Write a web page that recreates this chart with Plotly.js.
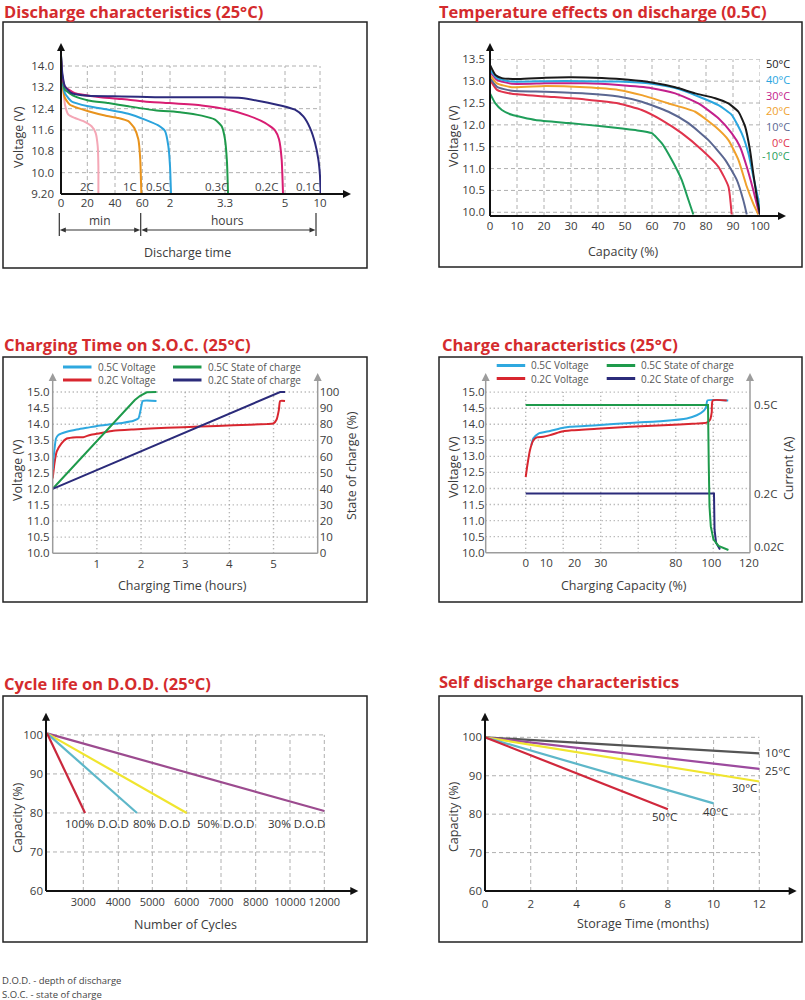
<!DOCTYPE html>
<html>
<head>
<meta charset="utf-8">
<script src="https://cdn.plot.ly/plotly-3.0.1.min.js"></script>
<style>
  html, body { margin: 0; padding: 0; background: #fff; }
  #chart { width: 805px; height: 1000px; }
</style>
</head>
<body>
<div id="chart"></div>
<script>
const W = 805;
const H = 1000;
const FONT = 'Open Sans, Noto Sans, sans-serif';
const TXT = '#3c3c3c';
const RED = '#d42b2d';

/* ---------- 1. Discharge characteristics (25°C) ---------- */
// broken time axis: minutes up to 60, then hours
const dcBreakMin = [0, 20, 40, 60, 120, 198, 300, 600];
const dcBreakPos = [0, 26.3, 54, 81.3, 109, 164, 224, 259];
const dcTickText = ['0', '20', '40', '60', '2', '3.3', '5', '10'];
const dcVoltTicks = [9.2, 10.0, 10.8, 11.6, 12.4, 13.2, 14.0];
const dcRates = ['2C', '1C', '0.5C', '0.3C', '0.2C', '0.1C'];
const dcColors = ['#f4a7b6', '#e8931d', '#2ba3dc', '#1e9a4b', '#d81d72', '#2c2a7c'];
const dc2C_min = [0, 0.5, 1.8, 3.0, 5.6, 10.6, 17.0, 23.1, 26.0, 27.5, 28.0, 28.0];
const dc2C_volt = [14.3, 13.73, 13.11, 12.55, 12.18, 12.05, 11.93, 11.74, 11.49, 11.0, 10.25, 9.22];
const dc1C_min = [0, 1.0, 3.0, 6.8, 13.2, 20.7, 32.8, 42.4, 49.8, 54.1, 57.1, 58.5, 59.3];
const dc1C_volt = [14.2, 13.35, 12.8, 12.55, 12.42, 12.3, 12.14, 12.05, 11.93, 11.68, 11.25, 10.5, 9.22];
const dc05C_min = [0, 1.0, 3.0, 8.1, 20.7, 35.2, 49.8, 65.8, 94.7, 109.2, 116.4, 120, 121.4];
const dc05C_volt = [14.4, 13.48, 12.98, 12.67, 12.49, 12.36, 12.21, 11.99, 11.77, 11.56, 11.0, 10.25, 9.22];
const dc03C_min = [0, 1.0, 3.0, 10.6, 20.7, 35.2, 49.8, 87.5, 136.5, 164.9, 183.8, 193.3, 198, 201.4, 203.1];
const dc03C_volt = [14.35, 13.55, 13.11, 12.86, 12.71, 12.61, 12.49, 12.34, 12.26, 12.14, 11.99, 11.74, 11.25, 10.38, 9.22];
const dc02C_min = [0, 1.0, 3.0, 10.6, 29.7, 44.9, 64.3, 118.1, 164.9, 203.7, 237.7, 266, 283, 289.8, 294.3, 296.6];
const dc02C_volt = [14.35, 13.6, 13.23, 12.98, 12.83, 12.76, 12.67, 12.61, 12.52, 12.36, 12.14, 11.87, 11.59, 11.25, 10.5, 9.22];
const dc01C_min = [0, 1.0, 3.0, 8.1, 20.7, 44.9, 87.5, 145.3, 192.6, 226.3, 260.3, 294.3, 385.7, 457, 514, 557, 585.7, 600, 605.7];
const dc01C_volt = [14.4, 13.73, 13.23, 12.98, 12.88, 12.86, 12.83, 12.83, 12.83, 12.8, 12.67, 12.51, 12.36, 12.11, 11.68, 11.12, 10.5, 9.88, 9.22];
const dcLabelMin = [20, 51, 93, 186, 269, 491];
const dcLabelVolt = 9.5;

/* ---------- 2. Temperature effects on discharge (0.5C) ---------- */
const tempNames = ['50°C', '40°C', '30°C', '20°C', '10°C', '0°C', '-10°C'];
const tempColors = ['#1a1a1a', '#2aa6df', '#c3208c', '#f0a12c', '#5b6791', '#e0334c', '#1f9e5a'];
const tempLabelVolt = [13.41, 13.04, 12.68, 12.32, 11.96, 11.59, 11.29];
const cap50 = [0, 2, 4.4, 10.6, 20.5, 30.3, 41.4, 51.3, 59.9, 68.6, 76, 83.4, 88.3, 92, 94.5, 96.3, 97.5, 98.8, 100];
const volt50 = [13.37, 13.14, 13.07, 13.05, 13.08, 13.09, 13.07, 13.03, 12.97, 12.86, 12.72, 12.61, 12.49, 12.3, 11.96, 11.42, 10.89, 10.36, 9.95];
const cap40 = [0, 2.6, 8.1, 20.5, 35.3, 47.6, 59.9, 68.6, 77.2, 84.6, 89.5, 93.2, 95.7, 97.5, 99.4, 100];
const volt40 = [13.26, 13.07, 12.99, 13.0, 13.0, 12.99, 12.94, 12.84, 12.65, 12.45, 12.23, 11.81, 11.35, 10.82, 10.28, 9.95];
const cap30 = [0, 2.6, 8.1, 20.5, 35.3, 47.6, 59.9, 68.6, 77.2, 84.6, 89.5, 92.6, 95.1, 97.5, 99.4, 100];
const volt30 = [13.22, 13.03, 12.94, 12.95, 12.95, 12.91, 12.84, 12.72, 12.49, 12.15, 11.81, 11.5, 11.04, 10.51, 10.05, 9.95];
const cap20 = [0, 2.6, 8.1, 20.5, 35.3, 47.6, 56.2, 66.1, 76, 83.4, 88.3, 92, 95.1, 97.5, 99.4];
const volt20 = [13.14, 12.95, 12.86, 12.89, 12.86, 12.8, 12.68, 12.49, 12.3, 11.96, 11.65, 11.2, 10.59, 10.2, 9.95];
const cap10 = [0, 2.6, 8.1, 20.5, 35.3, 47.6, 56.2, 66.1, 73.5, 80.9, 87.1, 91.4, 93.8, 95.1];
const volt10 = [13.07, 12.87, 12.78, 12.76, 12.72, 12.65, 12.53, 12.3, 12.04, 11.65, 11.2, 10.74, 10.28, 9.95];
const cap0 = [0, 2.6, 8.1, 20.5, 35.3, 47.6, 56.2, 63.6, 71, 78.4, 84.6, 88.3, 89.5];
const volt0 = [13.03, 12.8, 12.71, 12.65, 12.58, 12.49, 12.34, 12.11, 11.81, 11.43, 11.04, 10.59, 9.95];
const capM10 = [0, 2, 4.4, 8.1, 16.8, 29.1, 41.4, 53.8, 59.9, 63.6, 67.3, 71, 73.5, 75.3];
const voltM10 = [12.72, 12.49, 12.34, 12.23, 12.11, 12.04, 11.97, 11.88, 11.81, 11.58, 11.2, 10.74, 10.28, 9.95];

/* ---------- 3. Charging time on S.O.C. (25°C) ---------- */
const ctNames = ['0.5C Voltage', '0.2C Voltage', '0.5C State of charge', '0.2C State of charge'];
const ctColors = ['#2fa8df', '#d8262f', '#1e9a4b', '#2b2b7a'];
const ct05V_h = [0, 0.015, 0.075, 0.128, 0.317, 0.543, 0.77, 1.0, 1.3, 1.6, 1.83, 1.94, 1.99, 2.04, 2.35];
const ct05V_volt = [12.6, 12.89, 13.56, 13.67, 13.77, 13.84, 13.89, 13.95, 14.0, 14.05, 14.11, 14.18, 14.44, 14.72, 14.72];
const ct02V_h = [0, 0.04, 0.09, 0.2, 0.32, 0.54, 0.69, 0.85, 1.07, 1.37, 1.83, 2.58, 3.34, 4.09, 4.85, 5.0, 5.07, 5.12, 5.15, 5.26];
const ct02V_volt = [12.32, 12.79, 13.15, 13.41, 13.56, 13.6, 13.6, 13.67, 13.72, 13.8, 13.84, 13.89, 13.93, 13.97, 14.01, 14.03, 14.15, 14.44, 14.72, 14.72];
const ct05S_h = [0, 1.86, 1.98, 2.13, 2.35];
const ct05S_soc = [40, 95, 97.7, 99.8, 100];
const ct02S_h = [0, 5.15, 5.26];
const ct02S_soc = [40, 100, 100];

/* ---------- 4. Charge characteristics (25°C) ---------- */
const ccTickPos = [0, 11, 26, 40, 80, 99, 119];
const ccTickText = ['0', '10', '20', '30', '80', '100', '120'];
const ccCurrentTicks = [0.02, 0.2, 0.5];
const ccCurrentText = ['0.02C', '0.2C', '0.5C'];
const cc05V_cap = [3.0, 4.1, 6.8, 13, 20, 23.6, 37.9, 55.6, 73.4, 85.9, 91.2, 94.8, 96.2, 96.9, 108];
const cc05V_volt = [13.35, 13.56, 13.71, 13.79, 13.89, 13.92, 13.97, 14.04, 14.1, 14.18, 14.28, 14.41, 14.54, 14.74, 14.74];
const cc02V_cap = [0, 0.9, 2.3, 4.1, 5.9, 9.4, 13, 18.3, 24.5, 37.9, 55.6, 73.4, 91.2, 96.5, 98.3, 99.2, 99.7, 107.2];
const cc02V_volt = [12.35, 12.73, 13.2, 13.5, 13.59, 13.61, 13.66, 13.76, 13.81, 13.86, 13.92, 13.97, 14.02, 14.05, 14.14, 14.38, 14.74, 14.74];
const cc05I_cap = [0, 97.2, 97.6, 98, 98.7, 100.1, 102.8, 108.1];
const cc05I_amp = [0.5, 0.5, 0.302, 0.157, 0.089, 0.045, 0.023, 0.009];
const cc02I_cap = [0, 100.4, 100.7, 101.5, 103.6];
const cc02I_amp = [0.2, 0.2, 0.078, 0.034, 0.011];

/* ---------- 5. Cycle life on D.O.D. (25°C) ---------- */
const cycleTicks = [3000, 4000, 5000, 6000, 7000, 8000, 10000, 12000];
const cycleBreaks = [2000, 3000, 4000, 5000, 6000, 7000, 8000, 10000, 12000];
const cyclePos = [1, 37.3, 72.3, 106.3, 140.7, 175, 209.7, 244, 278.3];
const dodNames = ['100% D.O.D', '80% D.O.D', '50% D.O.D', '30% D.O.D'];
const dodColors = ['#c9283d', '#5db7c9', '#f0e52e', '#9c4b8f'];
const dod100_cyc = [2000, 3050];
const dod100_cap = [100.4, 80];
const dod80_cyc = [2000, 4550];
const dod80_cap = [100.4, 80];
const dod50_cyc = [2000, 6000];
const dod50_cap = [100.4, 80];
const dod30_cyc = [2000, 12000];
const dod30_cap = [100.4, 80.5];
const dodLabelCyc = [3383, 5253, 7135, 10350];
const dodLabelCap = 77.2;

/* ---------- 6. Self discharge characteristics ---------- */
const sdNames = ['10°C', '25°C', '30°C', '40°C', '50°C'];
const sdColors = ['#555555', '#9c4a9e', '#f0e52e', '#5db7c9', '#d0283c'];
const sd10_mon = [0, 12];
const sd10_cap = [100, 95.8];
const sd25_mon = [0, 12];
const sd25_cap = [100, 91.8];
const sd30_mon = [0, 12];
const sd30_cap = [100, 88.5];
const sd40_mon = [0, 10];
const sd40_cap = [100, 82.8];
const sd50_mon = [0, 8];
const sd50_cap = [100, 81.3];
const sdLabelMon = [12.17, 12.17, 11.34, 10.1, 7.87];
const sdLabelCap = [96.1, 91.3, 87.0, 80.6, 79.3];
const sdLabelAnchor = ['left', 'left', 'center', 'center', 'center'];

/* ---------- helpers ---------- */
const px = (x) => x / W;
const py = (y) => 1 - y / H;
const xd = (a, b) => [a / W, b / W];
const yd = (top, bottom) => [1 - bottom / H, 1 - top / H];
const steps = (a, b, s) => { const r = []; for (let v = a; v <= b + 1e-9; v += s) r.push(+v.toFixed(3)); return r; };

// piecewise-linear scale for the uneven axes
function warp(inPts, outPts) {
  return function (v) {
    let i = 1;
    while (i < inPts.length - 1 && v > inPts[i]) i++;
    const a = inPts[i - 1];
    const b = inPts[i];
    return outPts[i - 1] + ((v - a) / (b - a)) * (outPts[i] - outPts[i - 1]);
  };
}
const dcX = warp(dcBreakMin, dcBreakPos);
const cyX = warp(cycleBreaks, cyclePos);
// months -> page x for labels that sit past the plot edge
const sdPageX = (m) => px(485 + (m / 12.03) * 275);

function line(x, y, color, xa, ya, opts) {
  return Object.assign({
    type: 'scatter', mode: 'lines', x, y, xaxis: xa, yaxis: ya, hoverinfo: 'skip', showlegend: false,
    line: { color, width: 2, shape: 'spline', smoothing: 0.5 },
  }, opts || {});
}

function label(x, y, text, opts) {
  return Object.assign({
    xref: 'paper', yref: 'paper', x: px(x), y: py(y), text, showarrow: false,
    xanchor: 'center', yanchor: 'middle',
    font: { family: FONT, size: 11, color: TXT },
  }, opts || {});
}
const title = (x, y, text) => label(x, y, text, { xanchor: 'left', borderpad: 0, font: { family: FONT, size: 16.5, color: RED, weight: 700 } });
const axTitle = (x, y, text, rot) => label(x, y, text, { textangle: rot ? -90 : 0, font: { family: FONT, size: 12.5, color: TXT } });

function seg(x0, y0, x1, y1, color, width) {
  return { type: 'line', xref: 'paper', yref: 'paper', x0: px(x0), y0: py(y0), x1: px(x1), y1: py(y1), line: { color, width } };
}
function tri(pts, color) {
  const d = pts.map((p, i) => `${i ? 'L' : 'M'} ${px(p[0])} ${py(p[1])}`).join(' ') + ' Z';
  return { type: 'path', xref: 'paper', yref: 'paper', path: d, fillcolor: color, line: { width: 0 } };
}
const headUp = (x, tip, c, l = 8, w = 4) => tri([[x, tip], [x - w, tip + l], [x + w, tip + l]], c);
const headRight = (tip, y, c, l = 8, w = 4) => tri([[tip, y], [tip - l, y - w], [tip - l, y + w]], c);
const headLeft = (tip, y, c, l = 8, w = 4) => tri([[tip, y], [tip + l, y - w], [tip + l, y + w]], c);
const box = (x0, y0, x1, y1) => ({ type: 'rect', xref: 'paper', yref: 'paper', x0: px(x0), y0: py(y1), x1: px(x1), y1: py(y0), line: { color: '#222', width: 1.5 } });

function grid(xr, yr, x0, y0, x1, y1, style) {
  return { type: 'line', layer: 'below', xref: xr, yref: yr, x0, y0, x1, y1, line: style };
}
const DASH = { color: '#b0b0b0', width: 1, dash: '4px,3px' };
const DOT = { color: '#a0a0a0', width: 1.4, dash: '1px,3px' };

function axis(domain, range, extra) {
  return Object.assign({
    domain, range, showgrid: false, zeroline: false, showline: false, ticks: '', fixedrange: true,
    tickmode: 'array', tickangle: 0, tickfont: { family: FONT, size: 11.5, color: TXT },
  }, extra);
}

/* ---------- traces ---------- */
const traces = [];
const dcSeries = [[dc2C_min, dc2C_volt], [dc1C_min, dc1C_volt], [dc05C_min, dc05C_volt], [dc03C_min, dc03C_volt], [dc02C_min, dc02C_volt], [dc01C_min, dc01C_volt]];
dcSeries.forEach((s, i) => traces.push(line(s[0].map(dcX), s[1], dcColors[i], 'x', 'y', { name: dcRates[i] })));

const tempSeries = [[cap50, volt50], [cap40, volt40], [cap30, volt30], [cap20, volt20], [cap10, volt10], [cap0, volt0], [capM10, voltM10]];
for (let i = tempSeries.length - 1; i >= 0; i--) {
  traces.push(line(tempSeries[i][0], tempSeries[i][1], tempColors[i], 'x2', 'y2', { name: tempNames[i] }));
}

traces.push(line(ct05S_h, ct05S_soc, ctColors[2], 'x3', 'y4', { name: ctNames[2], line: { color: ctColors[2], width: 2 } }));
traces.push(line(ct02S_h, ct02S_soc, ctColors[3], 'x3', 'y4', { name: ctNames[3], line: { color: ctColors[3], width: 2 } }));
traces.push(line(ct02V_h, ct02V_volt, ctColors[1], 'x3', 'y3', { name: ctNames[1] }));
traces.push(line(ct05V_h, ct05V_volt, ctColors[0], 'x3', 'y3', { name: ctNames[0] }));

traces.push(line(cc05V_cap, cc05V_volt, ctColors[0], 'x4', 'y5', { name: ctNames[0] }));
traces.push(line(cc02V_cap, cc02V_volt, ctColors[1], 'x4', 'y5', { name: ctNames[1] }));
traces.push(line(cc02I_cap, cc02I_amp, ctColors[3], 'x4', 'y6', { name: ctNames[3], line: { color: ctColors[3], width: 2 } }));
traces.push(line(cc05I_cap, cc05I_amp, ctColors[2], 'x4', 'y6', { name: ctNames[2], line: { color: ctColors[2], width: 2 } }));

const dodSeries = [[dod30_cyc, dod30_cap], [dod50_cyc, dod50_cap], [dod80_cyc, dod80_cap], [dod100_cyc, dod100_cap]];
dodSeries.forEach((s, k) => {
  const i = 3 - k;
  traces.push(line(s[0].map(cyX), s[1], dodColors[i], 'x5', 'y7', { name: dodNames[i], line: { color: dodColors[i], width: 2.2 } }));
});

const sdSeries = [[sd10_mon, sd10_cap], [sd25_mon, sd25_cap], [sd30_mon, sd30_cap], [sd40_mon, sd40_cap], [sd50_mon, sd50_cap]];
sdSeries.forEach((s, i) => traces.push(line(s[0], s[1], sdColors[i], 'x6', 'y8', { name: sdNames[i], line: { color: sdColors[i], width: 2.2 } })));

/* ---------- shapes ---------- */
const shapes = [
  box(3, 22, 367, 268), box(439, 22, 802, 267),
  box(3, 357, 367, 602), box(439, 357, 802, 602),
  box(3, 696, 367, 942), box(439, 696, 802, 942),
];

// panel 1 grid + axes
dcBreakMin.slice(1).forEach((t) => shapes.push(grid('x', 'y', dcX(t), 9.2, dcX(t), 14.0, DASH)));
dcVoltTicks.slice(1).forEach((v) => shapes.push(grid('x', 'y', 0, v, dcX(600), v, DASH)));
shapes.push(seg(61, 194, 61, 49, '#111', 2), headUp(61, 43, '#111'));
shapes.push(seg(61, 194, 345, 194, '#111', 2), headRight(351, 194, '#111'));
// min / hours brackets under the axis
[59.3, 140.7, 316].forEach((x) => shapes.push(seg(x, 213, x, 236, '#333', 1.2)));
shapes.push(seg(62, 230, 138, 230, '#333', 1.2), headLeft(59.8, 230, '#333', 6, 2.5), headRight(140.2, 230, '#333', 6, 2.5));
shapes.push(seg(144, 230, 313, 230, '#333', 1.2), headLeft(141.3, 230, '#333', 6, 2.5), headRight(315.5, 230, '#333', 6, 2.5));

// panel 2
steps(10, 100, 10).forEach((c) => shapes.push(grid('x2', 'y2', c, 9.915, c, 13.5, DASH)));
steps(10, 13.5, 0.5).forEach((v) => shapes.push(grid('x2', 'y2', 0, v, 100, v, DASH)));
shapes.push(seg(490, 216, 490, 49, '#111', 2), headUp(490, 43, '#111'));
shapes.push(seg(490, 216, 780, 216, '#111', 2), headRight(786, 216, '#111'));

// panel 3
const GRAY = '#9c9c9c';
steps(1, 5, 1).forEach((t) => shapes.push(grid('x3', 'y3', t, 10, t, 15, DOT)));
steps(10.5, 15, 0.5).forEach((v) => shapes.push(grid('x3', 'y3', 0, v, 6, v, DOT)));
shapes.push(seg(52.7, 553.3, 52.7, 380, GRAY, 1.5), headUp(52.7, 373, GRAY));
shapes.push(seg(317.7, 553.3, 317.7, 380, GRAY, 1.5), headUp(317.7, 373, GRAY));
shapes.push(seg(52.7, 553.3, 317.7, 553.3, GRAY, 1.5));

// panel 4
steps(0, 100, 20).forEach((c) => shapes.push(grid('x4', 'y5', c, 10, c, 15, DOT)));
steps(10.5, 15, 0.5).forEach((v) => shapes.push(grid('x4', 'y5', -21.33, v, 119.6, v, DOT)));
shapes.push(seg(485.7, 552.7, 485.7, 380, GRAY, 1.5), headUp(485.7, 373, GRAY));
shapes.push(seg(750, 552.7, 750, 380, GRAY, 1.5), headUp(750, 373, GRAY));
shapes.push(seg(485.7, 552.7, 750, 552.7, GRAY, 1.5));

// panel 5
cycleTicks.forEach((c) => shapes.push(grid('x5', 'y7', cyX(c), 60, cyX(c), 100, DASH)));
steps(70, 100, 10).forEach((v) => shapes.push(grid('x5', 'y7', 0, v, cyX(12000), v, DASH)));
shapes.push(seg(46, 891, 46, 719, '#111', 2), headUp(46, 712.7, '#111'));
shapes.push(seg(46, 891, 352, 891, '#111', 2), headRight(358.3, 891, '#111'));

// panel 6
steps(2, 12, 2).forEach((m) => shapes.push(grid('x6', 'y8', m, 60, m, 100, DASH)));
steps(70, 100, 10).forEach((v) => shapes.push(grid('x6', 'y8', 0, v, 12, v, DASH)));
shapes.push(seg(485, 891, 485, 719, '#111', 2), headUp(485, 712.7, '#111'));
shapes.push(seg(485, 891, 790, 891, '#111', 2), headRight(796.7, 891, '#111'));

/* ---------- annotations ---------- */
const annotations = [
  title(3, 11.5, 'Discharge characteristics (25°C)'),
  title(438, 11.5, 'Temperature effects on discharge (0.5C)'),
  title(3, 344, 'Charging Time on S.O.C. (25°C)'),
  title(441, 344, 'Charge characteristics (25°C)'),
  title(3, 683, 'Cycle life on D.O.D. (25°C)'),
  title(438, 681, 'Self discharge characteristics'),

  axTitle(18, 137, 'Voltage (V)', true),
  axTitle(187, 252, 'Discharge time'),
  label(100, 221, 'min', { font: { family: FONT, size: 12, color: TXT } }),
  label(227, 221, 'hours', { font: { family: FONT, size: 12, color: TXT } }),

  axTitle(453, 136, 'Voltage (V)', true),
  axTitle(623, 251, 'Capacity (%)'),

  axTitle(17, 470, 'Voltage (V)', true),
  axTitle(352, 466, 'State of charge (%)', true),
  axTitle(182, 585, 'Charging Time (hours)'),

  axTitle(453, 467, 'Voltage (V)', true),
  axTitle(788, 468, 'Current (A)', true),
  axTitle(624, 585, 'Charging Capacity (%)'),

  axTitle(17, 818, 'Capacity (%)', true),
  axTitle(185, 924, 'Number of Cycles'),

  axTitle(453, 817, 'Capacity (%)', true),
  axTitle(643, 923, 'Storage Time (months)'),

  label(0, 980, 'D.O.D. - depth of discharge', { xanchor: 'left', font: { family: FONT, size: 9.5, color: '#444' } }),
  label(0, 994, 'S.O.C. - state of charge', { xanchor: 'left', font: { family: FONT, size: 9.5, color: '#444' } }),
];

dcRates.forEach((r, i) => annotations.push({
  xref: 'x', yref: 'y', x: dcX(dcLabelMin[i]), y: dcLabelVolt, text: r, showarrow: false,
  font: { family: FONT, size: 11.5, color: '#444' },
}));

tempNames.forEach((n, i) => annotations.push({
  xref: 'paper', yref: 'y2', x: px(792), y: tempLabelVolt[i], text: n, showarrow: false, xanchor: 'right',
  font: { family: FONT, size: 11, color: tempColors[i] },
}));

dodNames.forEach((n, i) => annotations.push({
  xref: 'x5', yref: 'y7', x: cyX(dodLabelCyc[i]), y: dodLabelCap, text: n, showarrow: false,
  font: { family: FONT, size: 11.5, color: '#333' },
}));

sdNames.forEach((n, i) => annotations.push({
  xref: 'paper', yref: 'y8', x: sdPageX(sdLabelMon[i]), y: sdLabelCap[i], text: n, showarrow: false, xanchor: sdLabelAnchor[i],
  font: { family: FONT, size: 11.5, color: '#333' },
}));

// two-column legends drawn by hand for panels 3 and 4
function legendBlock(x0, x1, yTop, yBot) {
  const rows = [[x0, yTop], [x0, yBot], [x1, yTop], [x1, yBot]];
  rows.forEach((p, i) => {
    shapes.push(seg(p[0], p[1], p[0] + 28.5, p[1], ctColors[i], 3));
    annotations.push(label(p[0] + 33.5, p[1], ctNames[i], { xanchor: 'left', borderpad: 0, font: { family: FONT, size: 10, color: '#555' } }));
  });
}
legendBlock(63, 173, 367, 380);
legendBlock(496.7, 606.7, 365.5, 378.5);

/* ---------- layout ---------- */
const layout = {
  width: W,
  height: H,
  margin: { l: 0, r: 0, t: 0, b: 0 },
  paper_bgcolor: '#ffffff',
  plot_bgcolor: 'rgba(0,0,0,0)',
  showlegend: false,
  font: { family: FONT, color: TXT },
  xaxis: axis(xd(61, 321), [0, 260], { anchor: 'y', tickvals: dcBreakMin.map(dcX), ticktext: dcTickText, ticklabelstandoff: 0 }),
  yaxis: axis(yd(50, 194), [9.2, 14.6], { anchor: 'x', tickvals: dcVoltTicks, ticktext: dcVoltTicks.map((v) => v.toFixed(v < 10 ? 2 : 1)), ticklabelstandoff: 6 }),
  xaxis2: axis(xd(490, 760), [0, 100], { anchor: 'y2', tickvals: steps(0, 100, 10), ticklabelstandoff: 1 }),
  yaxis2: axis(yd(59.3, 216), [9.915, 13.5], { anchor: 'x2', tickvals: steps(10, 13.5, 0.5), ticktext: steps(10, 13.5, 0.5).map((v) => v.toFixed(1)), ticklabelstandoff: 4 }),
  xaxis3: axis(xd(52.7, 317.7), [0, 6], { anchor: 'y3', tickvals: steps(1, 5, 1), ticklabelstandoff: 2 }),
  yaxis3: axis(yd(387.2, 553.3), [10, 15.15], { anchor: 'x3', tickvals: steps(10, 15, 0.5), ticktext: steps(10, 15, 0.5).map((v) => v.toFixed(1)), ticklabelstandoff: 2 }),
  yaxis4: axis(yd(387.2, 553.3), [0, 103], { anchor: 'x3', overlaying: 'y3', side: 'right', tickvals: steps(0, 100, 10), ticklabelstandoff: 1 }),
  xaxis4: axis(xd(485.7, 750), [-21.33, 119.6], { anchor: 'y5', tickvals: ccTickPos, ticktext: ccTickText, ticklabelstandoff: 2 }),
  yaxis5: axis(yd(387.3, 552.7), [10, 15.15], { anchor: 'x4', tickvals: steps(10, 15, 0.5), ticktext: steps(10, 15, 0.5).map((v) => v.toFixed(1)), ticklabelstandoff: 0 }),
  yaxis6: axis(yd(387.3, 552.7), [0, 5.15 / 9.2], { anchor: 'x4', overlaying: 'y5', side: 'right', tickvals: ccCurrentTicks, ticktext: ccCurrentText, ticklabelstandoff: 3 }),
  xaxis5: axis(xd(46, 325), [0, 279], { anchor: 'y7', tickvals: cycleTicks.map(cyX), ticktext: cycleTicks.map(String), ticklabelstandoff: 3, tickfont: { family: FONT, size: 11, color: TXT } }),
  yaxis7: axis(yd(731, 891), [60, 101], { anchor: 'x5', tickvals: steps(60, 100, 10), ticklabelstandoff: 2 }),
  xaxis6: axis(xd(485, 760), [0, 12.03], { anchor: 'y8', tickvals: steps(0, 12, 2), ticklabelstandoff: 4 }),
  yaxis8: axis(yd(735.4, 891), [60, 100.5], { anchor: 'x6', tickvals: steps(60, 100, 10), ticklabelstandoff: 2 }),
  shapes,
  annotations,
};

Plotly.newPlot('chart', traces, layout, { staticPlot: true, displayModeBar: false });
</script>
</body>
</html>
